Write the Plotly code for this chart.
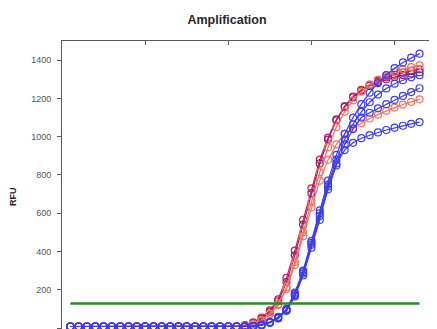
import plotly.graph_objects as go

cycles = list(range(1, 44))

base = [8] * 21  # cycles 1-21

red1 = base + [15, 30, 55, 92, 150, 262, 405, 565, 730, 880, 995, 1090, 1160, 1210, 1245,
               1272, 1292, 1310, 1323, 1335, 1344, 1352]
purple1 = base + [12, 25, 48, 85, 140, 240, 380, 540, 705, 860, 985, 1085, 1155, 1205, 1240,
                  1265, 1285, 1300, 1312, 1322, 1330, 1337]
orange1 = base + [10, 20, 40, 75, 125, 215, 345, 500, 660, 815, 945, 1050, 1130, 1190, 1235,
                  1270, 1298, 1320, 1338, 1352, 1363, 1373]
orange2 = base + [10, 20, 40, 72, 120, 205, 330, 480, 630, 770, 880, 960, 1015, 1045, 1070,
                  1095, 1115, 1135, 1152, 1168, 1182, 1195]
blue1 = base + [8, 10, 18, 32, 58, 100, 185, 300, 455, 615, 770, 905, 1015, 1100, 1170,
                1230, 1280, 1322, 1358, 1388, 1413, 1434]
blue2 = base + [8, 10, 16, 30, 55, 95, 178, 292, 445, 600, 750, 880, 985, 1065, 1130,
                1180, 1220, 1252, 1277, 1295, 1310, 1321]
blue3 = base + [8, 10, 15, 28, 52, 92, 172, 285, 435, 585, 725, 850, 960, 1040, 1100,
                1125, 1148, 1170, 1192, 1213, 1233, 1253]
blue4 = base + [8, 10, 15, 28, 50, 90, 165, 275, 420, 565, 740, 860, 930, 968, 992,
                1008, 1022, 1035, 1047, 1057, 1067, 1076]

threshold_x = [1, 43]
threshold_y = [128, 128]

y_ticks = [0, 200, 400, 600, 800, 1000, 1200, 1400]
x_ticks = [10, 20, 30, 40]

BLUE = "rgb(60,60,235)"
CRIMSON = "rgb(205,30,75)"
PURPLE = "rgb(150,30,120)"
SALMON = "rgb(240,115,95)"

series = [
    (red1, CRIMSON), (purple1, PURPLE), (orange1, SALMON), (orange2, SALMON),
    (blue4, BLUE), (blue3, BLUE), (blue2, BLUE), (blue1, BLUE),
]

fig = go.Figure()
for vals, col in series:
    fig.add_trace(go.Scatter(
        x=cycles, y=vals, mode="lines+markers",
        line=dict(color=col, width=1.2),
        marker=dict(symbol="circle-open", size=7, color=col, line=dict(width=1.2, color=col)),
        showlegend=False,
    ))

# threshold line drawn on the top (framing) x axis, which shares the same range
fig.add_trace(go.Scatter(
    x=threshold_x, y=threshold_y, mode="lines", xaxis="x2",
    line=dict(color="rgb(40,140,40)", width=2.5), showlegend=False,
))

# page body has an 8px default margin; the figure is sized so it ends at the window edge
OFF = 8
W, H = 437 - OFF, 329 - OFF
L, T = 62 - OFF, 41 - OFF
PW, PH = W - L, H - T

YR = [-5, 1500]
XR = [0, 45.1]
AX = "rgb(90,90,90)"
tickfont = dict(family="Liberation Sans, Arial", size=9, color="rgb(85,85,85)")

fig.update_layout(
    width=W, height=H,
    margin=dict(l=L, r=0, t=T, b=0, autoexpand=False),
    paper_bgcolor="white", plot_bgcolor="white",
    xaxis=dict(range=XR, tickvals=x_ticks, showticklabels=False, ticks="",
               showline=False, showgrid=False, zeroline=False),
    xaxis2=dict(range=XR, tickvals=x_ticks, overlaying="x", side="top", anchor="y",
                showticklabels=False, ticks="inside", ticklen=4, tickcolor=AX,
                showline=True, linecolor=AX, linewidth=1, showgrid=False, zeroline=False),
    yaxis=dict(range=YR, tickvals=y_ticks, ticks="outside", ticklen=4, tickcolor=AX,
               showline=True, linecolor=AX, linewidth=1, mirror=True,
               showgrid=False, zeroline=False, tickfont=tickfont, ticklabelstandoff=4),
    yaxis2=dict(range=YR, tickvals=y_ticks, overlaying="y", side="left", ticks="inside",
                ticklen=3, tickcolor=AX, showticklabels=False, showline=True, linecolor=AX,
                linewidth=1, mirror="ticks", showgrid=False, zeroline=False),
    title=dict(text="<b>Amplification</b>", x=(227 - OFF) / W, xref="container", xanchor="center",
               y=1 - (20 - OFF) / H, yref="container", yanchor="middle",
               font=dict(family="Liberation Sans, Arial", size=12.5, color="rgb(40,40,40)")),
    annotations=[dict(text="<b>RFU</b>", textangle=-90, x=(13 - 62) / PW, y=(329 - 197) / PH,
                      xref="paper", yref="paper", showarrow=False, xanchor="center", yanchor="middle",
                      font=dict(family="Liberation Sans, Arial", size=9, color="rgb(40,40,40)"))],
)

fig.write_html("out.html")
